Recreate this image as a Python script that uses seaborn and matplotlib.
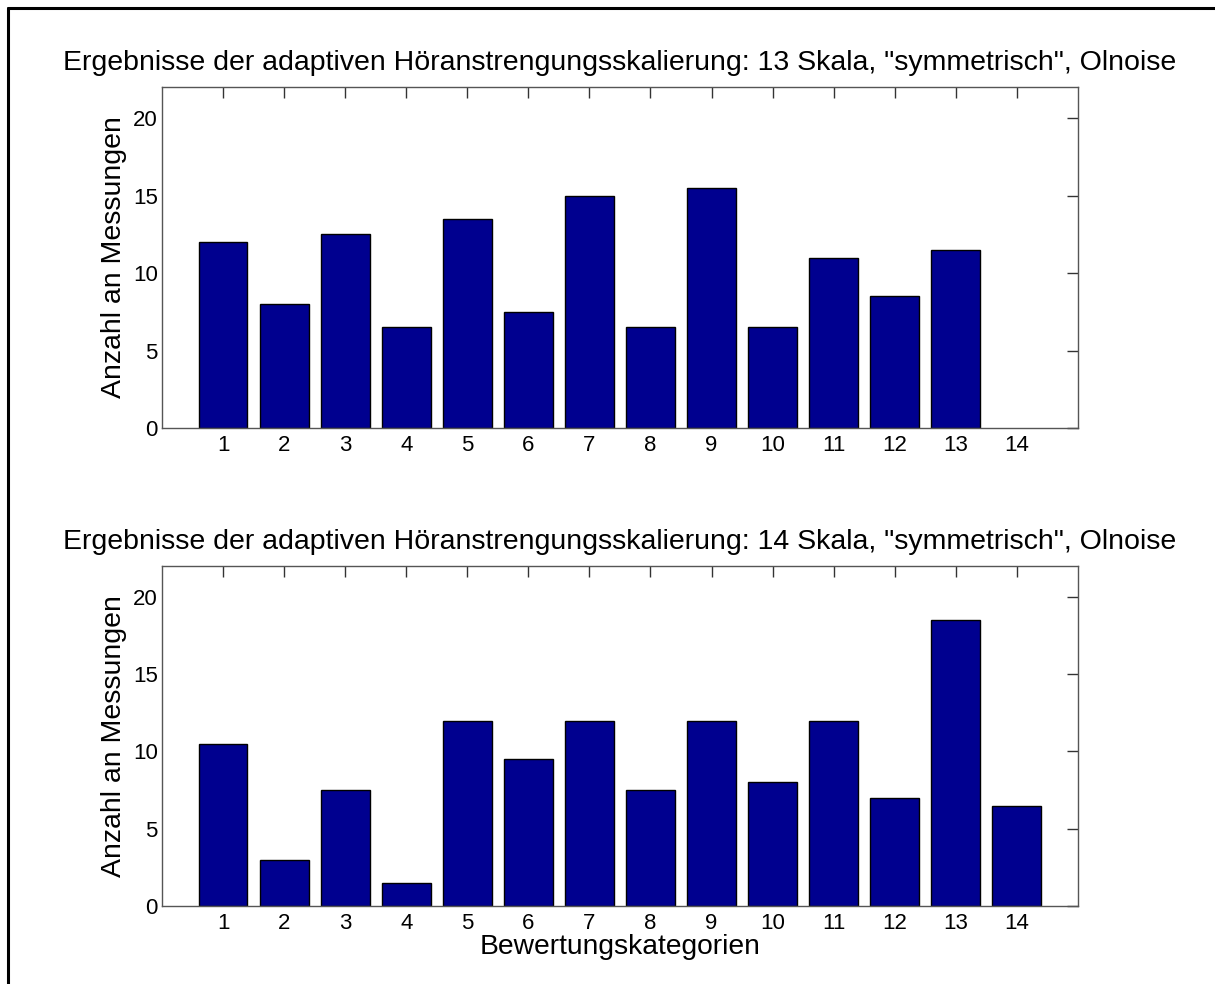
import matplotlib
matplotlib.use("Agg")
import matplotlib.pyplot as plt
from matplotlib.lines import Line2D
import seaborn as sns
import pandas as pd

categories = list(range(1, 15))
counts_13 = [12, 8, 12.5, 6.5, 13.5, 7.5, 15, 6.5, 15.5, 6.5, 11, 8.5, 11.5, 0]
counts_14 = [10.5, 3, 7.5, 1.5, 12, 9.5, 12, 7.5, 12, 8, 12, 7, 18.5, 6.5]
titles = [
    'Ergebnisse der adaptiven Höranstrengungsskalierung: 13 Skala, "symmetrisch", Olnoise',
    'Ergebnisse der adaptiven Höranstrengungsskalierung: 14 Skala, "symmetrisch", Olnoise',
]
ylabel = "Anzahl an Messungen"
xlabel = "Bewertungskategorien"
yticks = [0, 5, 10, 15, 20]

sns.set_theme(style="white")
plt.rcParams["font.family"] = ["Liberation Sans", "DejaVu Sans"]

fig = plt.figure(figsize=(12.15, 9.84), dpi=100)
ax1 = fig.add_axes([0.1333, 0.565, 0.7539, 0.3465])
ax2 = fig.add_axes([0.1333, 0.0793, 0.7539, 0.3455])

bar_color = "#00008F"
for ax, vals, title in [(ax1, counts_13, titles[0]), (ax2, counts_14, titles[1])]:
    df = pd.DataFrame({"cat": categories, "val": vals})
    sns.barplot(data=df, x="cat", y="val", native_scale=True, width=0.8,
                color=bar_color, saturation=1, edgecolor="black", linewidth=1,
                ax=ax)
    for p in ax.patches:
        if p.get_height() == 0:
            p.set_linewidth(0)
    ax.set_xlim(0, 15)
    ax.set_ylim(0, 22)
    ax.set_xticks(categories)
    ax.set_xticklabels([str(c) for c in categories])
    ax.set_yticks(yticks)
    ax.set_yticklabels([str(t) for t in yticks])
    ax.tick_params(axis="both", direction="in", length=8, width=1, color="#333333",
                   top=True, right=True, labelsize=16, labelcolor="black")
    ax.tick_params(axis="x", pad=5)
    ax.tick_params(axis="y", pad=3)
    for s in ax.spines.values():
        s.set_color("#555555")
        s.set_linewidth(1)
        s.set_visible(True)
    ax.set_title(title, fontsize=20.5, pad=12, color="black")
    ax.set_ylabel(ylabel, fontsize=20.5, labelpad=4, color="black")
    ax.set_xlabel("")

ax2.set_xlabel(xlabel, fontsize=20.3, labelpad=0, color="black")

# figure frame (left and top edges visible)
fig.add_artist(Line2D([8/1215, 8/1215], [0, 1-8/984], transform=fig.transFigure,
                      color="black", linewidth=2.2))
fig.add_artist(Line2D([8/1215, 1], [1-8/984, 1-8/984], transform=fig.transFigure,
                      color="black", linewidth=2.2))

fig.savefig("out.png", dpi=100, facecolor="white")
